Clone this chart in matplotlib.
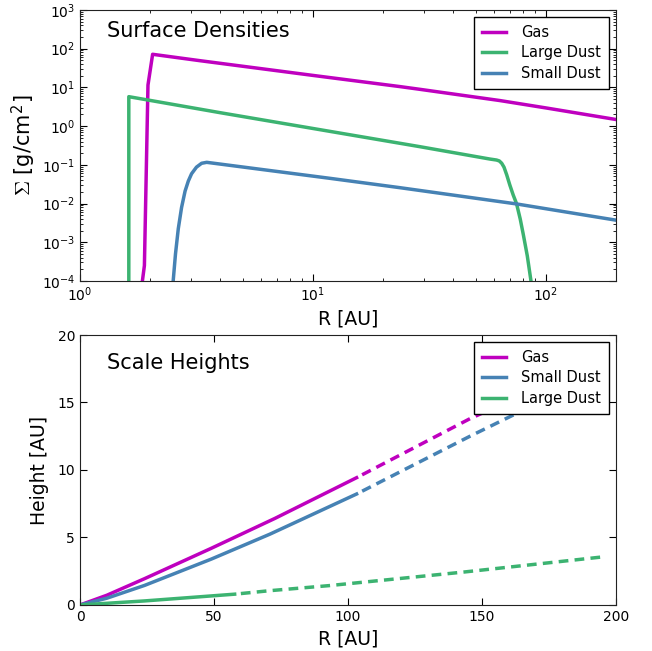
import numpy as np
import matplotlib
matplotlib.use('Agg')
import matplotlib.pyplot as plt
from matplotlib.ticker import LogLocator, NullFormatter

plt.rcParams['font.family'] = ['DejaVu Sans']
plt.rcParams['mathtext.fontset'] = 'cm'
plt.rcParams['axes.unicode_minus'] = False
plt.rcParams['lines.scale_dashes'] = False

# surface densities (R in AU, sigma in g/cm^2)
gas_r = [1.853, 1.89, 1.958, 2.05, 3.27, 10.0, 23.6, 28.8, 63.5, 100.0, 200.0]
gas_sigma = [1e-4, 2.5e-4, 11.5, 71.6, 49.0, 20.4, 10.5, 8.91, 4.57, 2.95, 1.48]

large_r = [1.62, 1.62, 4.0, 28.8, 57.5, 61.4, 63.1, 64.6, 66.1, 67.9, 70.0,
           72.4, 74.8, 77.6, 80.0, 83.2, 86.3]
large_sigma = [1e-4, 5.76, 2.22, 0.294, 0.141, 0.133, 0.126, 0.110, 0.087,
               0.055, 0.0302, 0.0166, 0.01, 0.00398, 0.00158, 4.47e-4, 1e-4]

small_r = [2.512, 2.570, 2.642, 2.729, 2.825, 2.917, 3.013, 3.162, 3.327,
           3.499, 11.83, 23.6, 74.8, 200.0]
small_sigma = [1e-4, 5.0e-4, 2.24e-3, 7.9e-3, 0.0209, 0.038, 0.0589, 0.0871,
               0.1096, 0.116, 0.0448, 0.0257, 0.00977, 0.00372]

# scale heights (AU): solid part, then dashed continuation
gas_hr_in = [0, 10, 24.1, 49.0, 72.8, 103.2]
gas_h_in = [0, 0.72, 1.95, 4.2, 6.42, 9.43]
gas_hr_out = [103.2, 145.5, 150.5, 175]
gas_h_out = [9.43, 13.8, 14.25, 16.8]

small_hr_in = [0, 10, 24.1, 49.0, 70.9, 103.2]
small_h_in = [0, 0.5, 1.45, 3.4, 5.25, 8.22]
small_hr_out = [103.2, 145.5, 163.5, 175]
small_h_out = [8.22, 12.5, 14.25, 15.5]

large_hr_in = [0, 24.1, 57.7]
large_h_in = [0, 0.3, 0.80]
large_hr_out = [57.7, 70.9, 93.3, 143.7, 195.9]
large_h_out = [0.80, 1.06, 1.44, 2.45, 3.58]

c_gas = '#bf00bf'
c_large = '#3cb371'
c_small = '#4682b4'
lw = 2.5
dash = (7, (7, 4.5))

fig = plt.figure(figsize=(6.52, 6.51), dpi=100)
ax1 = fig.add_axes([0.1227, 0.5684, 0.8221, 0.4163])
ax2 = fig.add_axes([0.1227, 0.0707, 0.8221, 0.4147])

ax1.plot(gas_r, gas_sigma, color=c_gas, lw=lw, label='Gas')
ax1.plot(large_r, large_sigma, color=c_large, lw=lw, label='Large Dust')
ax1.plot(small_r, small_sigma, color=c_small, lw=lw, label='Small Dust')
ax1.set_xscale('log')
ax1.set_yscale('log')
ax1.set_xlim(1, 200)
ax1.set_ylim(1e-4, 1e3)
ax1.yaxis.set_major_locator(LogLocator(base=10, numticks=20))
ax1.yaxis.set_minor_locator(LogLocator(base=10, subs=np.arange(2, 10), numticks=20))
ax1.yaxis.set_minor_formatter(NullFormatter())
ax1.set_xlabel('R [AU]', fontsize=13.5)
ax1.set_ylabel(r'$\Sigma$ [g/cm$^{\mathdefault{2}}$]', fontsize=15)
ax1.yaxis.set_label_coords(-0.079, 0.5)
ax1.text(0.05, 0.9, 'Surface Densities', transform=ax1.transAxes, fontsize=15,
         va='baseline')

ax2.plot(gas_hr_in, gas_h_in, color=c_gas, lw=lw, label='Gas')
ax2.plot(small_hr_in, small_h_in, color=c_small, lw=lw, label='Small Dust')
ax2.plot(large_hr_in, large_h_in, color=c_large, lw=lw, label='Large Dust')
ax2.plot(gas_hr_out, gas_h_out, color=c_gas, lw=lw, ls=dash)
ax2.plot(small_hr_out, small_h_out, color=c_small, lw=lw, ls=dash)
ax2.plot(large_hr_out, large_h_out, color=c_large, lw=lw, ls=dash)
ax2.set_xlim(0, 200)
ax2.set_ylim(0, 20)
ax2.set_xticks([0, 50, 100, 150, 200])
ax2.set_yticks([0, 5, 10, 15, 20])
ax2.set_xlabel('R [AU]', fontsize=13.5)
ax2.set_ylabel('Height [AU]', fontsize=13.5)
ax2.yaxis.set_label_coords(-0.058, 0.5)
ax2.text(0.05, 0.873, 'Scale Heights', transform=ax2.transAxes, fontsize=15,
         va='baseline')

for ax in (ax1, ax2):
    ax.tick_params(which='both', direction='in', top=True, right=True,
                   labelsize=10)
    ax.tick_params(which='major', length=5)
    ax.tick_params(which='minor', length=2.5)
    for sp in ax.spines.values():
        sp.set_color('#222222')
    leg = ax.legend(loc='upper right', fontsize=10.5, fancybox=False,
                    framealpha=1, handlelength=1.65, handletextpad=1.05,
                    labelspacing=0.38, borderaxespad=0.5, borderpad=0.52)
    leg.get_frame().set_edgecolor('black')
    leg.get_frame().set_linewidth(1.0)

fig.savefig('out.png', dpi=100)
